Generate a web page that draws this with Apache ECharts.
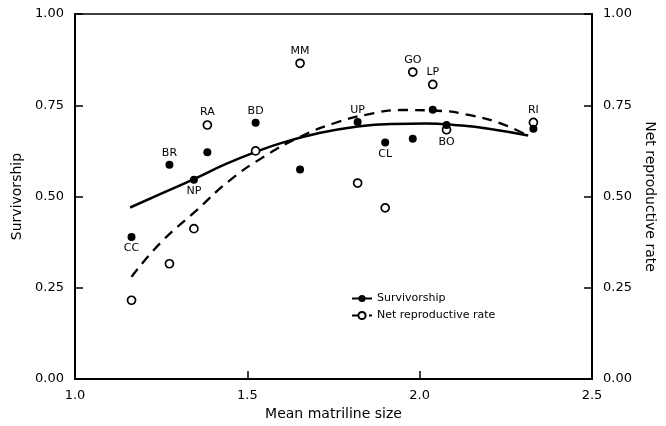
<!DOCTYPE html>
<html>
<head>
<meta charset="utf-8">
<script src="https://cdn.jsdelivr.net/npm/echarts@6/dist/echarts.min.js"></script>
<style>html,body{margin:0;padding:0;background:#fff}#c{width:666px;height:426px}</style>
</head>
<body>
<div id="c"></div>
<script>
// Sites (matrilines)
var sites = ['CC','BR','NP','RA','BD','MM','UP','CL','GO','LP','BO','RI'];
var matrilineSize = [1.164,1.274,1.345,1.384,1.524,1.653,1.820,1.900,1.980,2.038,2.078,2.330];
var survivorship = [0.389,0.587,0.546,0.621,0.702,0.574,0.704,0.648,0.658,0.738,0.696,0.686];
var netReproductive = [0.216,0.316,0.412,0.696,0.625,0.865,0.537,0.469,0.841,0.807,0.683,0.703];

// Fitted curves
var survCurveX = [1.16,1.26,1.345,1.44,1.524,1.60,1.70,1.82,1.92,2.02,2.10,2.20,2.315];
var survCurveY = [0.470,0.512,0.548,0.590,0.622,0.647,0.672,0.692,0.699,0.700,0.696,0.686,0.667];
var nrrCurveX = [1.164,1.25,1.35,1.45,1.55,1.65,1.75,1.85,1.95,2.05,2.15,2.25,2.315];
var nrrCurveY = [0.280,0.375,0.460,0.545,0.610,0.662,0.700,0.725,0.737,0.735,0.722,0.695,0.665];

var xTicks = [1.0,1.5,2.0,2.5];
var yTicks = [0,0.25,0.5,0.75,1.0];

// Label placement per site: which series carries it, and where
var labelOn = {CC:['s','bottom'],BR:['s','top'],NP:['s','bottom'],RA:['n','top'],BD:['s','top'],
  MM:['n','top'],UP:['s','top'],CL:['s','bottom'],GO:['n','top'],LP:['n','top'],BO:['n','bottom'],RI:['n','top']};

var FONT = 'DejaVu Sans';
function pts(xs, ys){ return xs.map(function(x,i){return [x, ys[i]];}); }
function scatterData(vals, key){
  return sites.map(function(s,i){
    var d = {name:s, value:[matrilineSize[i], vals[i]]};
    var lp = labelOn[s];
    if (lp[0] === key) {
      d.label = {show:true, position:lp[1], formatter:s, distance:2,
        color:'#000', fontFamily:FONT, fontSize:11};
    }
    return d;
  });
}

var chart = echarts.init(document.getElementById('c'), null, {renderer:'canvas'});
var axisCommon = {
  axisLine:{show:true, lineStyle:{color:'#000', width:2}},
  axisTick:{show:true, inside:true, length:8, lineStyle:{color:'#000', width:1.5}},
  splitLine:{show:false},
  nameTextStyle:{color:'#000', fontFamily:FONT, fontSize:14}
};
chart.setOption({
  backgroundColor:'#fff',
  animation:false,
  grid:{left:75, right:74, top:14, bottom:46, show:true, borderColor:'#000', borderWidth:1.5},
  legend:{
    orient:'vertical', left:346, top:288, itemWidth:20, itemHeight:9, itemGap:6,
    data:['Survivorship','Net reproductive rate'],
    textStyle:{color:'#000', fontFamily:FONT, fontSize:11}
  },
  xAxis:Object.assign({}, axisCommon, {
    type:'value', min:xTicks[0], max:xTicks[xTicks.length-1], interval:0.5,
    name:'Mean matriline size', nameLocation:'middle', nameGap:26,
    axisLabel:{color:'#000', fontFamily:FONT, fontSize:13, margin:10,
      formatter:function(v){return v.toFixed(1);}}
  }),
  yAxis:[
    Object.assign({}, axisCommon, {
      type:'value', position:'left', min:yTicks[0], max:yTicks[yTicks.length-1], interval:0.25,
      name:'Survivorship', nameLocation:'middle', nameGap:44, nameRotate:90,
      axisLabel:{color:'#000', fontFamily:FONT, fontSize:13, margin:11,
        formatter:function(v){return v.toFixed(2);}}
    }),
    Object.assign({}, axisCommon, {
      type:'value', position:'right', min:yTicks[0], max:yTicks[yTicks.length-1], interval:0.25,
      name:'Net reproductive rate', nameLocation:'middle', nameGap:42, nameRotate:-90,
      axisLabel:{color:'#000', fontFamily:FONT, fontSize:13, margin:11,
        formatter:function(v){return v.toFixed(2);}}
    })
  ],
  series:[
    {
      name:'Survivorship', type:'line', smooth:true, yAxisIndex:0,
      data:pts(survCurveX, survCurveY),
      symbol:'circle', symbolSize:7, showSymbol:false,
      itemStyle:{color:'#000'},
      lineStyle:{color:'#000', width:2.5}, z:2
    },
    {
      name:'Net reproductive rate', type:'line', smooth:true, yAxisIndex:1,
      data:pts(nrrCurveX, nrrCurveY),
      symbol:'circle', symbolSize:7, showSymbol:false,
      itemStyle:{color:'#fff', borderColor:'#000', borderWidth:1.5},
      lineStyle:{color:'#000', width:2.3, type:[10,7]}, z:2
    },
    {
      name:'nrr-points', type:'scatter', yAxisIndex:1,
      data:scatterData(netReproductive,'n'),
      symbol:'circle', symbolSize:8,
      itemStyle:{color:'#fff', borderColor:'#000', borderWidth:1.7, opacity:1}, z:3
    },
    {
      name:'surv-points', type:'scatter', yAxisIndex:0,
      data:scatterData(survivorship,'s'),
      symbol:'circle', symbolSize:8,
      itemStyle:{color:'#000', opacity:1}, z:4
    }
  ]
});
</script>
</body>
</html>
